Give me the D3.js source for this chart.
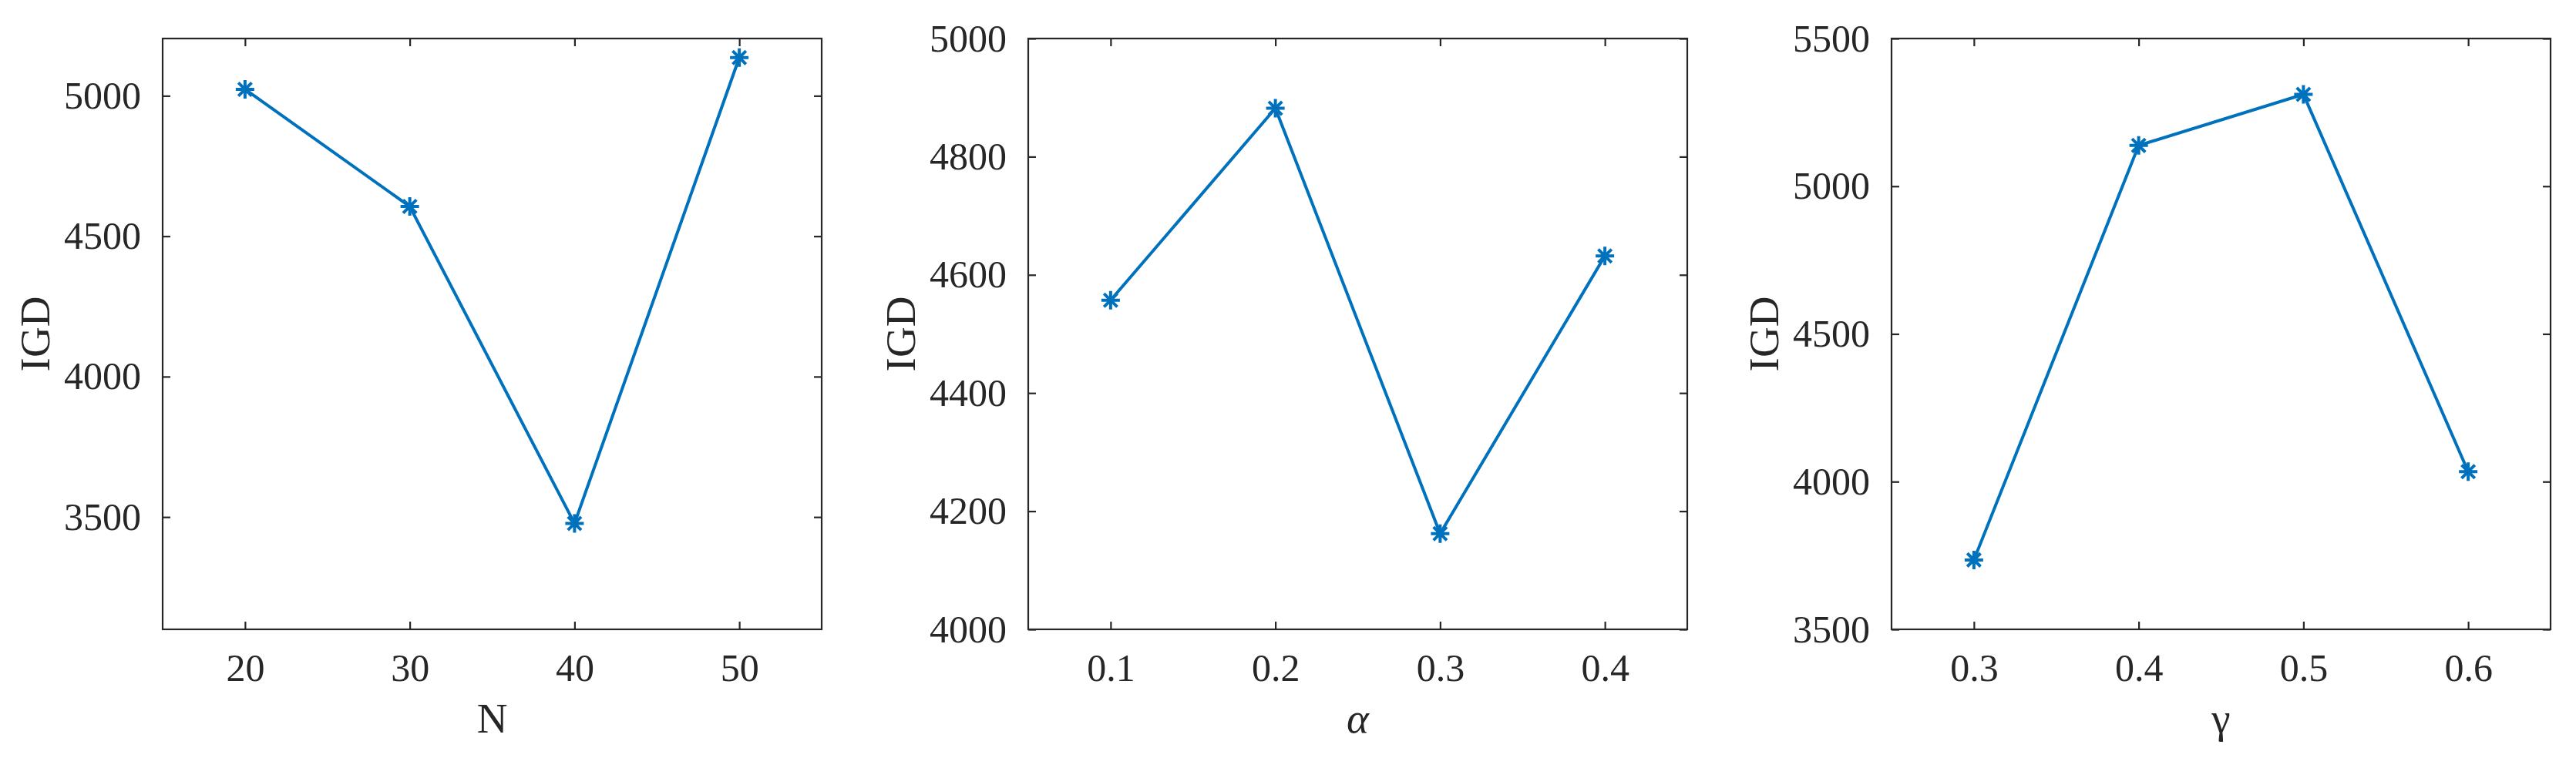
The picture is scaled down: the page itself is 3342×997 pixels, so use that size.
<!DOCTYPE html>
<html lang="en">
    <head>
        <meta charset="utf-8">
        <title>IGD parameter sensitivity</title>
        <style type="text/css">
            body { margin: 0; background: #fff; }
            text { font-family: "Liberation Serif", "Times New Roman", serif; fill: #262626; }
        </style>
    </head>
    <body>

<script src="https://d3js.org/d3.v7.min.js"></script>
<script>

    // data
    var nValues = [20, 30, 40, 50];
    var nIGD = [5023, 4606, 3477, 5136];
    var nXTicks = [20, 30, 40, 50];
    var nYTicks = [3500, 4000, 4500, 5000];

    var alphaValues = [0.1, 0.2, 0.3, 0.4];
    var alphaIGD = [4557, 4882, 4162, 4632];
    var alphaXTicks = [0.1, 0.2, 0.3, 0.4];
    var alphaYTicks = [4000, 4200, 4400, 4600, 4800, 5000];

    var gammaValues = [0.3, 0.4, 0.5, 0.6];
    var gammaIGD = [3735, 5138, 5311, 4034];
    var gammaXTicks = [0.3, 0.4, 0.5, 0.6];
    var gammaYTicks = [3500, 4000, 4500, 5000, 5500];

    var w = 3342;
    var h = 997;
    var lineColor = "#0072BD";
    var axisColor = "#262626";
    var tickLen = 10;

    var panels = [
        { x: nValues, y: nIGD, xTicks: nXTicks, yTicks: nYTicks,
          xDomain: [15, 55], yDomain: [3100, 5204], xFmt: d3.format("d"),
          label: "N", italic: false, left: 211 },
        { x: alphaValues, y: alphaIGD, xTicks: alphaXTicks, yTicks: alphaYTicks,
          xDomain: [0.05, 0.45], yDomain: [4000, 5000], xFmt: d3.format(".1f"),
          label: "\u03b1", italic: true, left: 1334 },
        { x: gammaValues, y: gammaIGD, xTicks: gammaXTicks, yTicks: gammaYTicks,
          xDomain: [0.25, 0.65], yDomain: [3500, 5500], xFmt: d3.format(".1f"),
          label: "\u03b3", italic: false, left: 2454 }
    ];

    var panelTop = 50;
    var pw = 855;
    var ph = 767;

    var svg = d3.select("body")
            .append("svg")
            .attr("width", w)
            .attr("height", h);

    panels.forEach(function(p) {

        var g = svg.append("g")
            .attr("transform", "translate(" + p.left + "," + panelTop + ")");

        var x = d3.scaleLinear().domain(p.xDomain).range([0, pw]);
        var y = d3.scaleLinear().domain(p.yDomain).range([ph, 0]);

        //axes with inward ticks, MATLAB box style
        var bottom = g.append("g").attr("transform", "translate(0," + ph + ")")
            .call(d3.axisBottom(x).tickValues(p.xTicks).tickFormat(p.xFmt)
                .tickSizeInner(-tickLen).tickSizeOuter(0).tickPadding(31));
        var topAx = g.append("g")
            .call(d3.axisTop(x).tickValues(p.xTicks).tickFormat("")
                .tickSizeInner(-tickLen).tickSizeOuter(0));
        var leftAx = g.append("g")
            .call(d3.axisLeft(y).tickValues(p.yTicks).tickFormat(d3.format("d"))
                .tickSizeInner(-tickLen).tickSizeOuter(0).tickPadding(28));
        var rightAx = g.append("g").attr("transform", "translate(" + pw + ",0)")
            .call(d3.axisRight(y).tickValues(p.yTicks).tickFormat("")
                .tickSizeInner(-tickLen).tickSizeOuter(0));

        [bottom, topAx, leftAx, rightAx].forEach(function(a) {
            a.select(".domain").remove();
            a.selectAll("line").attr("stroke", axisColor).attr("stroke-width", 2.2);
            a.selectAll("text").attr("font-size", 50)
                .attr("font-family", "Liberation Serif").attr("fill", axisColor);
        });

        g.append("rect")
            .attr("width", pw)
            .attr("height", ph)
            .attr("fill", "none")
            .attr("stroke", axisColor)
            .attr("stroke-width", 2.2);

        var pts = p.x.map(function(d, i) { return [d, p.y[i]]; });

        var line = d3.line()
            .x(function(d) { return x(d[0]); })
            .y(function(d) { return y(d[1]); });

        g.append("path")
            .datum(pts)
            .attr("d", line)
            .attr("fill", "none")
            .attr("stroke", lineColor)
            .attr("stroke-width", 4);

        //asterisk markers
        var r = 12;
        var s = r * 0.72;
        var star = "M0," + (-r) + "L0," + r +
                   "M" + (-r) + ",0L" + r + ",0" +
                   "M" + (-s) + "," + (-s) + "L" + s + "," + s +
                   "M" + (-s) + "," + s + "L" + s + "," + (-s);

        g.selectAll(".mk")
            .data(pts)
            .enter()
            .append("path")
            .attr("class", "mk")
            .attr("transform", function(d) { return "translate(" + x(d[0]) + "," + y(d[1]) + ")"; })
            .attr("d", star)
            .attr("stroke", lineColor)
            .attr("stroke-width", 4)
            .attr("fill", "none");

        //axis titles
        g.append("text")
            .attr("x", pw / 2)
            .attr("y", ph + 134)
            .attr("text-anchor", "middle")
            .attr("font-size", 55)
            .attr("font-style", p.italic ? "italic" : "normal")
            .text(p.label);

        g.append("text")
            .attr("transform", "translate(-147," + (ph / 2) + ") rotate(-90)")
            .attr("text-anchor", "middle")
            .attr("font-size", 55)
            .text("IGD");
    });

</script>

    </body>
</html>
